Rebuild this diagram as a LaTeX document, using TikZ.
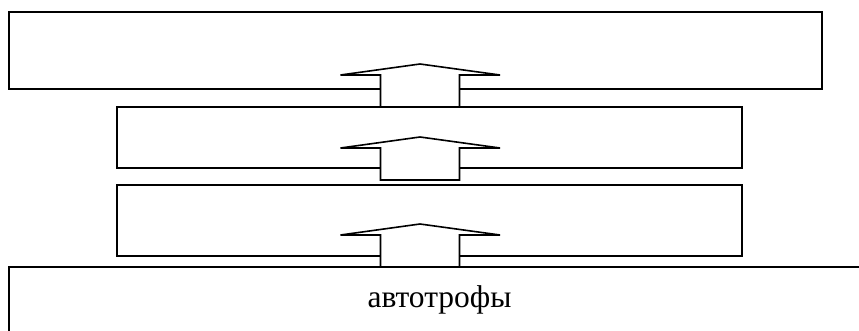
\documentclass[tikz,border=0pt]{standalone}
\usepackage{fontspec}
\setmainfont{Liberation Serif}
\begin{document}
\begin{tikzpicture}[x=1pt,y=-1pt,
  level/.style={draw=black,line width=1.6pt,rectangle,inner sep=0pt,minimum width=#1},
  blockarrow/.style={draw=black,line width=1.6pt,fill=white,line join=miter},
  pics/uparrow/.style={code={
    \draw[blockarrow] (-39.5,0) -- (-39.5,-32) -- (-79.5,-32) -- (0,-43)
      -- (80,-32) -- (39.5,-32) -- (39.5,0) -- cycle;}}]
\useasboundingbox (0,0) rectangle (859,331);
\clip (0,0) rectangle (859,331);
% trophic levels, top to bottom
\node[level=813pt,minimum height=77pt] (lvl4) at (415.5,50.5) {};
\node[level=625pt,minimum height=61pt] (lvl3) at (429.5,137.5) {};
\node[level=625pt,minimum height=71pt] (lvl2) at (429.5,220.5) {};
\node[level=866pt,minimum height=70pt] (lvl1) at (442,302) {};
\node[anchor=base,inner sep=0pt,font=\fontsize{31.5}{36}\selectfont] (lbl) at (439.5,307) {автотрофы};
% energy flow between levels
\pic at (420,107) {uparrow};
\pic at (420,180) {uparrow};
\pic at (420,267) {uparrow};
\end{tikzpicture}
\end{document}
